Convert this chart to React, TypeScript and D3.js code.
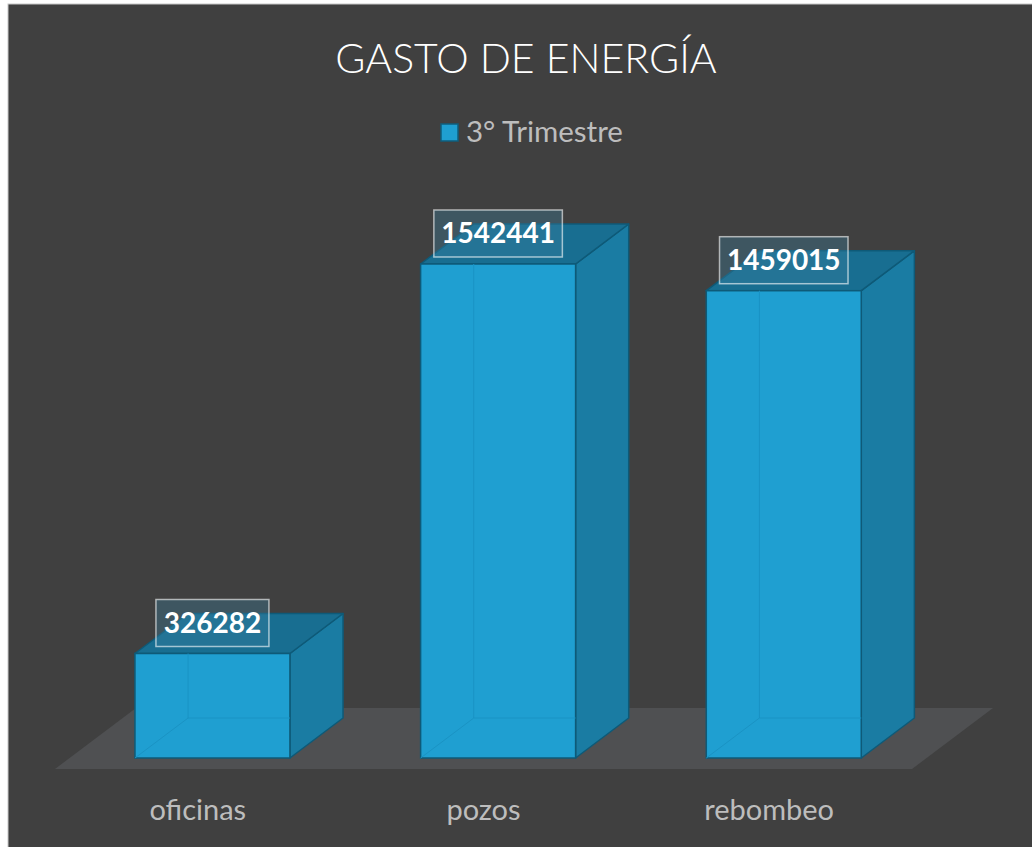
import * as d3 from "d3";

const categories = ["oficinas", "pozos", "rebombeo"];
const values = [326282, 1542441, 1459015];
const seriesName = "3° Trimestre";
const title = "GASTO DE ENERGÍA";

const W = 1032;
const H = 847;
const FONT = "Lato, 'Open Sans', sans-serif";

// oblique projection: one unit of depth moves right by K and up by 1
const K = 1.328;
const floorFrontY = 769;
const floorDepth = 61;
const barFrontDepth = 11;
const barDepth = 40;

export default function App() {
  const x = d3.scaleBand<string>()
    .domain(categories)
    .range([55, 912])
    .paddingInner(0.4575)
    .paddingOuter(0.22875);

  const h = d3.scaleLinear().domain([0, 1800000]).range([0, 576.5]);

  const baseY = floorFrontY - barFrontDepth;
  const bw = x.bandwidth();
  const ddx = barDepth * K;
  const ddy = barDepth;

  const floor = [
    [55, floorFrontY],
    [912, floorFrontY],
    [912 + floorDepth * K, floorFrontY - floorDepth],
    [55 + floorDepth * K, floorFrontY - floorDepth],
  ];

  const pts = (p: number[][]) => p.map(q => q.join(",")).join(" ");

  return (
    <svg width={W} height={H} style={{ position: "absolute", left: 0, top: 0 }}>
      <rect x={0} y={0} width={W} height={H} fill="#ffffff" />
      <rect x={8} y={4} width={W} height={H} fill="#404040" stroke="#c8c8c8" strokeWidth={1} />

      <text x={526} y={73} textAnchor="middle" fill="#ffffff" fontFamily={FONT} fontWeight={300} fontSize={41}>
        {title}
      </text>

      <rect x={441} y={124} width={17} height={17} fill="#1f9fd1" stroke="#0f5d7c" strokeWidth={1.5} />
      <text x={466} y={142} fill="#bdbdbd" fontFamily={FONT} fontSize={29.5}>
        {seriesName}
      </text>

      <polygon points={pts(floor)} fill="#4f5052" />

      {categories.map((c, i) => {
        const fx = (x(c) as number) + barFrontDepth * K;
        const ty = baseY - h(values[i]);
        const side = [[fx + bw, baseY], [fx + bw + ddx, baseY - ddy], [fx + bw + ddx, ty - ddy], [fx + bw, ty]];
        const top = [[fx, ty], [fx + ddx, ty - ddy], [fx + bw + ddx, ty - ddy], [fx + bw, ty]];
        return (
          <g key={c}>
            <polygon points={pts(side)} fill="#1a7ca3" stroke="#0e5a78" strokeWidth={1.5} strokeLinejoin="round" />
            <polygon points={pts(top)} fill="#186e91" stroke="#0e5a78" strokeWidth={1.5} strokeLinejoin="round" />
            <rect x={fx} y={ty} width={bw} height={baseY - ty} fill="#1f9fd1" stroke="#0e5a78" strokeWidth={1.5} />
            {/* faint back edges seen through the box */}
            <g stroke="#1a93c4" strokeWidth={1} fill="none">
              <line x1={fx + ddx} y1={baseY - ddy} x2={fx + ddx} y2={ty} />
              <line x1={fx + ddx} y1={baseY - ddy} x2={fx + bw} y2={baseY - ddy} />
              <line x1={fx} y1={baseY} x2={fx + ddx} y2={baseY - ddy} />
            </g>
          </g>
        );
      })}

      {categories.map((c, i) => {
        const fx = (x(c) as number) + barFrontDepth * K;
        const ty = baseY - h(values[i]);
        const label = String(values[i]);
        const boxW = label.length * 15.5 + 20;
        const cx = fx + bw / 2;
        return (
          <g key={c + "-lbl"}>
            <rect x={cx - boxW / 2} y={ty - 54} width={boxW} height={47}
              fill="rgba(60,130,160,0.35)" stroke="rgba(255,255,255,0.6)" strokeWidth={1.5} />
            <text x={cx} y={ty - 20.5} textAnchor="middle" fill="#ffffff" fontFamily={FONT}
              fontWeight="bold" fontSize={28}>
              {label}
            </text>
          </g>
        );
      })}

      {categories.map(c => (
        <text key={c + "-ax"} x={(x(c) as number) + bw / 2} y={820} textAnchor="middle"
          fill="#bdbdbd" fontFamily={FONT} fontSize={29}>
          {c}
        </text>
      ))}
    </svg>
  );
}
